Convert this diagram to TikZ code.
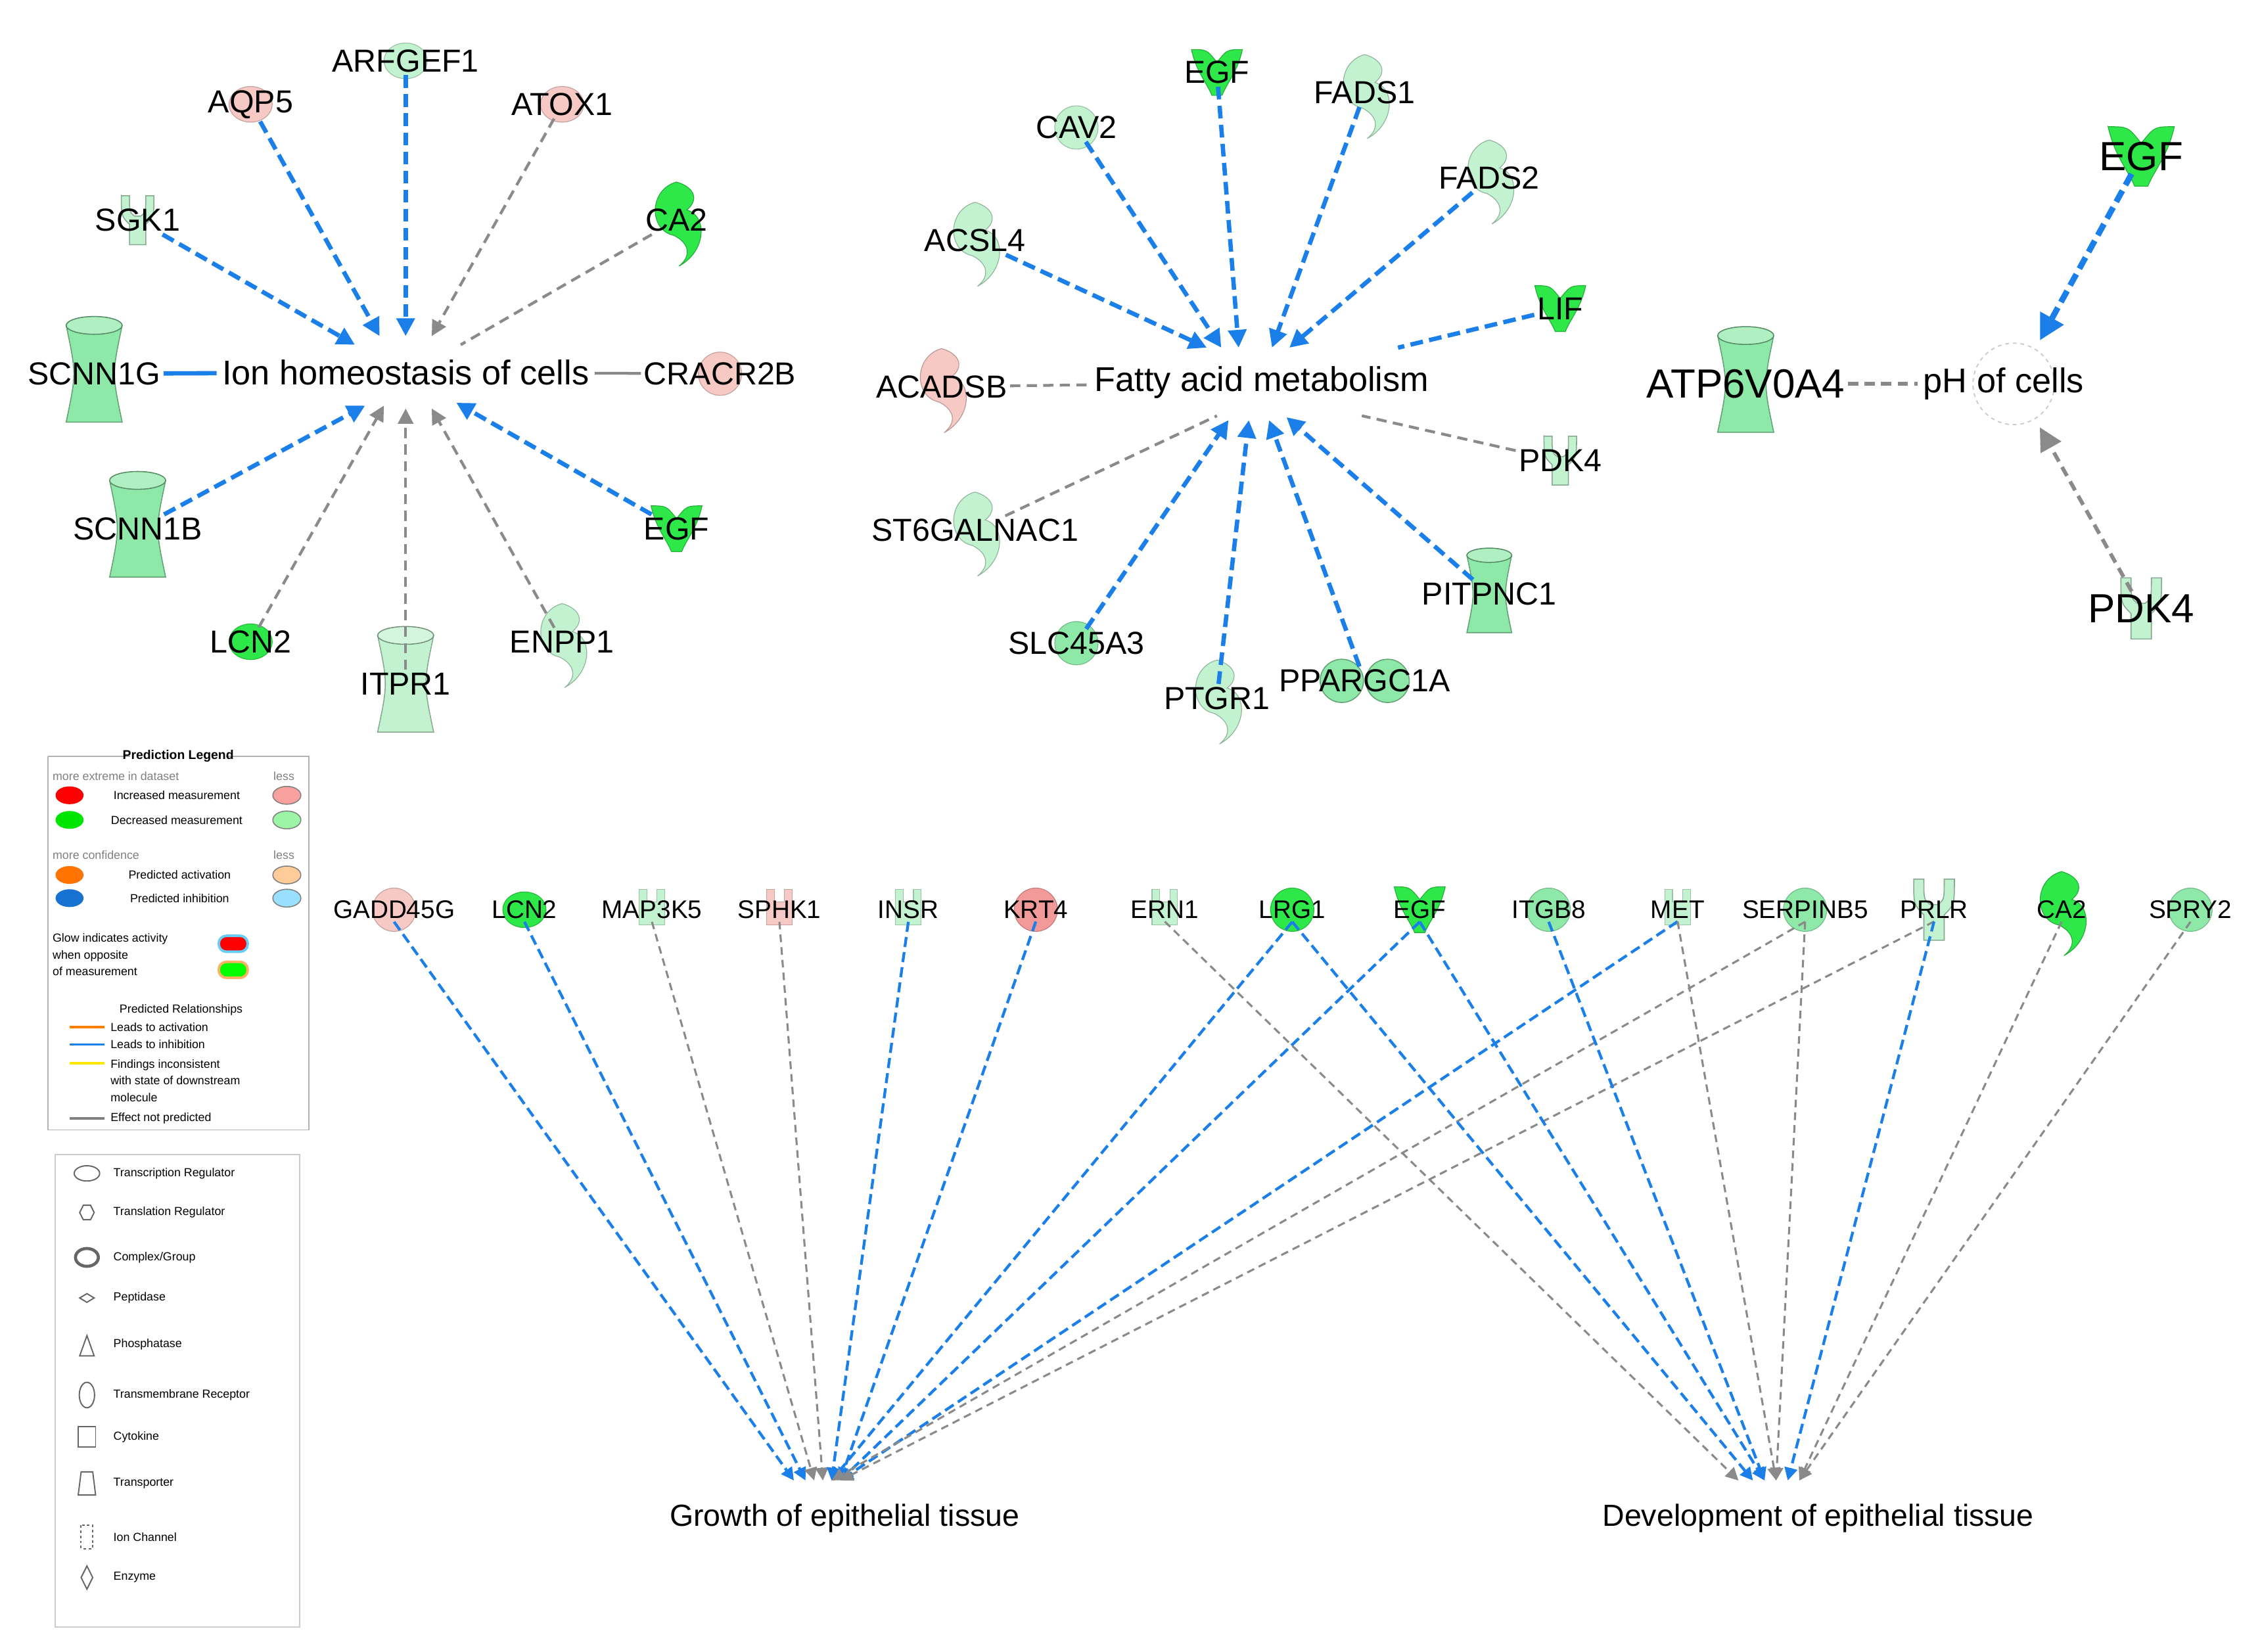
\documentclass[tikz,border=0pt]{standalone}
\usepackage{fontspec}
\setmainfont{Liberation Sans}
\usetikzlibrary{arrows.meta}
\definecolor{pinkL}{HTML}{F6C9C5}
\definecolor{greenL}{HTML}{C2F2CF}
\definecolor{greenM}{HTML}{8EE8A8}
\definecolor{greenB}{HTML}{2EE84A}
\definecolor{redM}{HTML}{F29A9A}
\definecolor{blueE}{HTML}{1A7FE8}
\definecolor{grayE}{HTML}{8A8A8A}
\tikzset{
 gene/.style={font=\fontsize{12.5}{15}\selectfont, inner sep=1pt},
 sgene/.style={font=\fontsize{10}{12}\selectfont, inner sep=1pt},
 bgene/.style={font=\fontsize{16}{18}\selectfont, inner sep=1pt},
 target/.style={font=\fontsize{12}{15}\selectfont, inner sep=2pt},
 bl/.style={blueE, line width=1.7pt, dash pattern=on 5pt off 2.5pt, -{Triangle[length=7pt,width=7pt]}},
 gr/.style={grayE, line width=1.1pt, dash pattern=on 4pt off 2.5pt, -{Triangle[length=6pt,width=6pt]}},
 bln/.style={blueE, line width=1.7pt},
 grn/.style={grayE, line width=1.1pt, dash pattern=on 4pt off 2.5pt},
 blt/.style={blueE, line width=1.1pt, dash pattern=on 4pt off 2pt, -{Triangle[length=5pt,width=5pt]}},
 grt/.style={grayE, line width=0.8pt, dash pattern=on 3pt off 2pt, -{Triangle[length=5pt,width=5pt]}},
 lg/.style={font=\fontsize{4.6}{5.5}\selectfont, inner sep=0pt},
 lgi/.style={gray!80!black, line width=0.5pt},
 pics/ell/.style={code={\fill[#1, draw=#1!80!black, line width=.3pt] (0,0) ellipse [x radius=8.5pt, y radius=7pt];}},
 pics/sm/.style={code={\fill[#1, draw=#1!80!black, line width=.3pt] (-5pt,8pt) -- (-2pt,8pt) -- (-2pt,3pt) -- (2pt,3pt) -- (2pt,8pt) -- (5pt,8pt) -- (5pt,-6pt) -- (-5pt,-6pt) -- cycle;}},
 pics/circ/.style={code={\fill[#1, draw=#1!80!black, line width=.3pt] (0,0) circle [radius=8.5pt];}},
 pics/cyl/.style={code={\fill[#1, draw=#1!70!black, line width=.4pt] (-11pt,19pt) .. controls (-7pt,0pt) .. (-11pt,-19pt) -- (11pt,-19pt) .. controls (7pt,0pt) .. (11pt,19pt) -- cycle;
   \draw[#1!60!black, line width=.4pt, fill=#1!70!white] (0,19pt) ellipse [x radius=11pt, y radius=3.5pt];}},
 pics/enz/.style={code={\fill[#1, draw=#1!75!black, line width=.3pt] (0,15pt) .. controls (-11pt,12pt) and (-11pt,-4pt) .. (-1pt,-6pt) .. controls (5pt,-9pt) and (6pt,-14pt) .. (1pt,-18pt) .. controls (12pt,-12pt) and (12pt,2pt) .. (4pt,4pt) .. controls (9pt,8pt) and (7pt,13pt) .. cycle;}},
 pics/gf/.style={code={\fill[#1, draw=#1!75!black, line width=.3pt] (-10pt,9pt) .. controls (-4pt,9pt) .. (0,4pt) .. controls (4pt,9pt) .. (10pt,9pt) .. controls (8pt,0pt) and (4pt,-4pt) .. (2pt,-9pt) -- (-2pt,-9pt) .. controls (-4pt,-4pt) and (-8pt,0pt) .. cycle;}},
 pics/cplx/.style={code={\fill[#1, draw=#1!70!black, line width=.4pt] (-9pt,0) circle [radius=8.5pt] (9pt,0) circle [radius=8.5pt];}},
 pics/yr/.style={code={\fill[#1, draw=#1!70!black, line width=.4pt] (-8pt,12pt) -- (-4pt,12pt) .. controls (-4pt,4pt) .. (-1.5pt,2pt) -- (1.5pt,2pt) .. controls (4pt,4pt) .. (4pt,12pt) -- (8pt,12pt) .. controls (8pt,2pt) .. (4pt,-2pt) -- (4pt,-12pt) -- (-4pt,-12pt) -- (-4pt,-2pt) .. controls (-8pt,2pt) .. cycle;}},
}
\begin{document}
\begin{tikzpicture}[x=0.02cm,y=-0.02cm]
\useasboundingbox[fill=white] (0,0) rectangle (1560,1140);

% ---------- cluster 1 ----------
\pic at (280,42) {ell=greenL};
\pic at (173,72) {ell=pinkL};
\pic at (388,72) {ell=pinkL};
\pic[scale=0.8] at (95,152) {yr=greenL};
\pic at (467,152) {enz=greenB};
\pic at (65,258) {cyl=greenM};
\pic at (497,258) {circ=pinkL};
\pic at (95,365) {cyl=greenM};
\pic at (467,365) {gf=greenB};
\pic at (173,443) {ell=greenB};
\pic at (280,472) {cyl=greenL};
\pic at (388,443) {enz=greenL};

\node[target, font=\fontsize{13.5}{16}\selectfont] (ion) at (280,257) {Ion homeostasis of cells};
\node[gene] (arfgef1) at (280,42) {ARFGEF1};
\node[gene] (aqp5) at (173,72) {AQP5};
\node[gene] (atox1) at (388,72) {ATOX1};
\node[gene] (sgk1) at (95,152) {SGK1};
\node[gene] (ca2a) at (467,152) {CA2};
\node[gene] (scnn1g) at (65,258) {SCNN1G};
\node[gene] (cracr2b) at (497,258) {CRACR2B};
\node[gene] (scnn1b) at (95,365) {SCNN1B};
\node[gene] (egfa) at (467,365) {EGF};
\node[gene] (lcn2a) at (173,443) {LCN2};
\node[gene] (itpr1) at (280,472) {ITPR1};
\node[gene] (enpp1) at (388,443) {ENPP1};
\coordinate (i1) at (280,232); \coordinate (i2) at (262,232); \coordinate (i3) at (298,232);
\coordinate (i4) at (245,238); \coordinate (i5) at (318,238);
\coordinate (i6) at (252,280); \coordinate (i7) at (280,282); \coordinate (i8) at (298,282);
\coordinate (i9) at (265,280); \coordinate (i10) at (315,278);
\draw[bl] (arfgef1) -- (i1);
\draw[bl] (aqp5) -- (i2);
\draw[gr] (atox1) -- (i3);
\draw[bl] (sgk1) -- (i4);
\draw[grn] (ca2a) -- (i5);
\draw[bln] (scnn1g) -- (ion);
\draw[grayE, line width=1.1pt] (cracr2b) -- (ion);
\draw[bl] (scnn1b) -- (i6);
\draw[bl] (egfa) -- (i10);
\draw[gr] (lcn2a) -- (i9);
\draw[gr] (itpr1) -- (i7);
\draw[gr] (enpp1) -- (i8);

% ---------- cluster 2 ----------
\pic at (840,50) {gf=greenB};
\pic at (942,64) {enz=greenL};
\pic at (743,88) {circ=greenL};
\pic at (1028,123) {enz=greenL};
\pic at (673,166) {enz=greenL};
\pic at (1077,213) {gf=greenB};
\pic at (650,267) {enz=pinkL};
\pic[scale=0.8] at (1077,318) {yr=greenL};
\pic at (673,366) {enz=greenL};
\pic[scale=0.8] at (1028,410) {cyl=greenM};
\pic at (743,444) {circ=greenM};
\pic at (840,482) {enz=greenL};
\pic at (942,470) {cplx=greenM};

\node[target, font=\fontsize{13.5}{16}\selectfont] (fam) at (871,264) {Fatty acid metabolism};
\node[gene] (egfb) at (840,50) {EGF};
\node[gene] (fads1) at (942,64) {FADS1};
\node[gene] (cav2) at (743,88) {CAV2};
\node[gene] (fads2) at (1028,123) {FADS2};
\node[gene] (acsl4) at (673,166) {ACSL4};
\node[gene] (lif) at (1077,213) {LIF};
\node[gene] (acadsb) at (650,267) {ACADSB};
\node[gene] (pdk4a) at (1077,318) {PDK4};
\node[gene] (st6) at (673,366) {ST6GALNAC1};
\node[gene] (pitpnc1) at (1028,410) {PITPNC1};
\node[gene] (slc45a3) at (743,444) {SLC45A3};
\node[gene] (ptgr1) at (840,482) {PTGR1};
\node[gene] (ppargc1a) at (942,470) {PPARGC1A};
\coordinate (f1) at (855,240); \coordinate (f2) at (878,240); \coordinate (f3) at (843,240);
\coordinate (f4) at (890,240); \coordinate (f5) at (833,240); \coordinate (f6) at (965,240);
\coordinate (f7) at (940,287); \coordinate (f8) at (840,287); \coordinate (f9) at (888,288);
\coordinate (f10) at (848,290); \coordinate (f11) at (862,290); \coordinate (f12) at (876,290);
\draw[bl] (egfb) -- (f1);
\draw[bl] (fads1) -- (f2);
\draw[bl] (cav2) -- (f3);
\draw[bl] (fads2) -- (f4);
\draw[bl] (acsl4) -- (f5);
\draw[bln, dash pattern=on 5pt off 2.5pt] (lif) -- (f6);
\draw[grn] (acadsb) -- (fam);
\draw[grn] (pdk4a) -- (f7);
\draw[grn] (st6) -- (f8);
\draw[bl] (pitpnc1) -- (f9);
\draw[bl] (slc45a3) -- (f10);
\draw[bl] (ptgr1) -- (f11);
\draw[bl] (ppargc1a) -- (f12);

% ---------- cluster 3 ----------
\pic[scale=1.3] at (1478,108) {gf=greenB};
\pic[scale=1.0] at (1205,265) {cyl=greenM};
\pic[scale=1.0] at (1478,420) {yr=greenL};
\draw[gray!40, line width=.5pt, dash pattern=on 1.5pt off 1.5pt] (1390,265) ellipse [x radius=16pt, y radius=16pt];
\node[target, font=\fontsize{13.5}{16}\selectfont] (ph) at (1383,265) {pH of cells};
\node[bgene] (egfc) at (1478,108) {EGF};
\node[bgene] (atp) at (1205,265) {ATP6V0A4};
\node[bgene] (pdk4b) at (1478,420) {PDK4};
\coordinate (p1) at (1408,235); \coordinate (p2) at (1408,295);
\draw[bl, line width=2.3pt, -{Triangle[length=10pt,width=10pt]}] (egfc) -- (p1);
\draw[grn, line width=1.5pt] (atp) -- (ph);
\draw[gr, line width=1.5pt, -{Triangle[length=9pt,width=9pt]}] (pdk4b) -- (p2);

% ---------- bottom ----------
\pic at (272,628) {circ=pinkL};
\pic at (362,628) {ell=greenB};
\pic at (450,628) {sm=greenL};
\pic at (538,628) {sm=pinkL};
\pic at (627,628) {sm=greenL};
\pic at (715,628) {circ=redM};
\pic at (804,628) {sm=greenL};
\pic at (892,628) {circ=greenB};
\pic at (980,628) {gf=greenB};
\pic at (1069,628) {circ=greenM};
\pic at (1158,628) {sm=greenL};
\pic at (1246,628) {circ=greenM};
\pic at (1335,628) {yr=greenL};
\pic at (1423,628) {enz=greenB};
\pic at (1512,628) {circ=greenM};

\node[target] (grow) at (583,1048) {Growth of epithelial tissue};
\node[target] (dev) at (1255,1048) {Development of epithelial tissue};
\node[sgene] (gadd) at (272,628) {GADD45G};
\node[sgene] (lcn2b) at (362,628) {LCN2};
\node[sgene] (map3k5) at (450,628) {MAP3K5};
\node[sgene] (sphk1) at (538,628) {SPHK1};
\node[sgene] (insr) at (627,628) {INSR};
\node[sgene] (krt4) at (715,628) {KRT4};
\node[sgene] (ern1) at (804,628) {ERN1};
\node[sgene] (lrg1) at (892,628) {LRG1};
\node[sgene] (egfd) at (980,628) {EGF};
\node[sgene] (itgb8) at (1069,628) {ITGB8};
\node[sgene] (met) at (1158,628) {MET};
\node[sgene] (serp) at (1246,628) {SERPINB5};
\node[sgene] (prlr) at (1335,628) {PRLR};
\node[sgene] (ca2b) at (1423,628) {CA2};
\node[sgene] (spry2) at (1512,628) {SPRY2};
\coordinate (g1) at (548,1022); \coordinate (g2) at (556,1022); \coordinate (g3) at (562,1022);
\coordinate (g4) at (568,1022); \coordinate (g5) at (574,1022); \coordinate (g6) at (580,1022);
\coordinate (d1) at (1200,1022); \coordinate (d2) at (1210,1022); \coordinate (d3) at (1218,1022);
\coordinate (d4) at (1226,1022); \coordinate (d5) at (1234,1022); \coordinate (d6) at (1242,1022);
\draw[blt] (gadd.south) -- (g1);
\draw[blt] (lcn2b.south) -- (g2);
\draw[grt] (map3k5.south) -- (g3);
\draw[grt] (sphk1.south) -- (g4);
\draw[blt] (insr.south) -- (g5);
\draw[blt] (krt4.south) -- (g6);
\draw[blt] (lrg1.south) -- (g5);
\draw[blt] (egfd.south) -- (g6);
\draw[blt] (met.south) -- (g6);
\draw[grt] (serp.south) -- (g5);
\draw[grt] (prlr.south) -- (g6);
\draw[grt] (ern1.south) -- (d1);
\draw[blt] (lrg1.south) -- (d2);
\draw[blt] (egfd.south) -- (d3);
\draw[blt] (itgb8.south) -- (d3);
\draw[grt] (met.south) -- (d4);
\draw[grt] (serp.south) -- (d4);
\draw[blt] (prlr.south) -- (d5);
\draw[grt] (ca2b.south) -- (d6);
\draw[grt] (spry2.south) -- (d6);

% ---------- legend 1 ----------
\draw[lgi, gray!60] (33,522) -- (90,522) (156,522) -- (213,522) -- (213,780) -- (33,780) -- (33,522);
\node[lg, font=\bfseries\fontsize{5}{6}\selectfont] (lt) at (123,522) {Prediction Legend};
\node[lg, anchor=west, text=gray] (l1) at (36,536) {more extreme in dataset};
\node[lg, text=gray] (l2) at (196,536) {less};
\fill[red] (48,549) ellipse [x radius=5.5pt, y radius=3.5pt];
\node[lg] (l3) at (122,549) {Increased measurement};
\fill[pinkL!80!red, draw=gray] (198,549) ellipse [x radius=5.5pt, y radius=3.5pt];
\fill[green!90!black] (48,566) ellipse [x radius=5.5pt, y radius=3.5pt];
\node[lg] (l4) at (122,566) {Decreased measurement};
\fill[greenL!80!green, draw=gray] (198,566) ellipse [x radius=5.5pt, y radius=3.5pt];
\node[lg, anchor=west, text=gray] (l5) at (36,590) {more confidence};
\node[lg, text=gray] (l6) at (196,590) {less};
\fill[orange!90!red] (48,604) ellipse [x radius=5.5pt, y radius=3.5pt];
\node[lg] (l7) at (124,604) {Predicted activation};
\fill[orange!40, draw=gray] (198,604) ellipse [x radius=5.5pt, y radius=3.5pt];
\fill[blueE!90!black] (48,620) ellipse [x radius=5.5pt, y radius=3.5pt];
\node[lg] (l8) at (124,620) {Predicted inhibition};
\fill[blue!30!cyan!40, draw=gray] (198,620) ellipse [x radius=5.5pt, y radius=3.5pt];
\node[lg, anchor=west, align=left] (l9) at (36,659) {Glow indicates activity\\[1pt]when opposite\\[1pt]of measurement};
\fill[red, draw=cyan!60, line width=1pt, rounded corners=3pt] (151,646) rectangle (171,657);
\fill[green, draw=orange!60, line width=1pt, rounded corners=3pt] (151,664) rectangle (171,675);
\node[lg] (l10) at (125,697) {Predicted Relationships};
\draw[orange, line width=1pt] (48,709) -- (72,709);
\node[lg, anchor=west] (l11) at (76,709) {Leads to activation};
\draw[blueE, line width=1pt] (48,721) -- (72,721);
\node[lg, anchor=west] (l12) at (76,721) {Leads to inhibition};
\draw[yellow!90!orange, line width=1pt] (48,734) -- (72,734);
\node[lg, anchor=west, align=left] (l13) at (76,746) {Findings inconsistent\\[1pt]with state of downstream\\[1pt]molecule};
\draw[gray, line width=1pt] (48,772) -- (72,772);
\node[lg, anchor=west] (l14) at (76,772) {Effect not predicted};

% ---------- legend 2 ----------
\draw[gray!40, line width=.5pt] (38,797) rectangle (207,1123);
\draw[lgi] (60,810) ellipse [x radius=5pt, y radius=3pt];
\node[lg, anchor=west] (s1) at (78,810) {Transcription Regulator};
\draw[lgi] (55,837) -- (57.5,832) -- (62.5,832) -- (65,837) -- (62.5,842) -- (57.5,842) -- cycle;
\node[lg, anchor=west] (s2) at (78,837) {Translation Regulator};
\draw[lgi, line width=1.2pt] (60,868) ellipse [x radius=4.5pt, y radius=3.5pt];
\node[lg, anchor=west] (s3) at (78,868) {Complex/Group};
\draw[lgi] (55,896) -- (60,893) -- (65,896) -- (60,899) -- cycle;
\node[lg, anchor=west] (s4) at (78,896) {Peptidase};
\draw[lgi] (55,936) -- (60,922) -- (65,936) -- cycle;
\node[lg, anchor=west] (s5) at (78,928) {Phosphatase};
\draw[lgi] (60,963) ellipse [x radius=3pt, y radius=5pt];
\node[lg, anchor=west] (s6) at (78,963) {Transmembrane Receptor};
\draw[lgi] (54,985) rectangle (66,999);
\node[lg, anchor=west] (s7) at (78,992) {Cytokine};
\draw[lgi] (56,1016) -- (64,1016) -- (66,1032) -- (54,1032) -- cycle;
\node[lg, anchor=west] (s8) at (78,1024) {Transporter};
\draw[lgi, dash pattern=on 1pt off 1pt] (56,1053) rectangle (64,1069);
\node[lg, anchor=west] (s9) at (78,1061) {Ion Channel};
\draw[lgi] (60,1081) -- (64,1089) -- (60,1097) -- (56,1089) -- cycle;
\node[lg, anchor=west] (s10) at (78,1089) {Enzyme};
\end{tikzpicture}
\end{document}
